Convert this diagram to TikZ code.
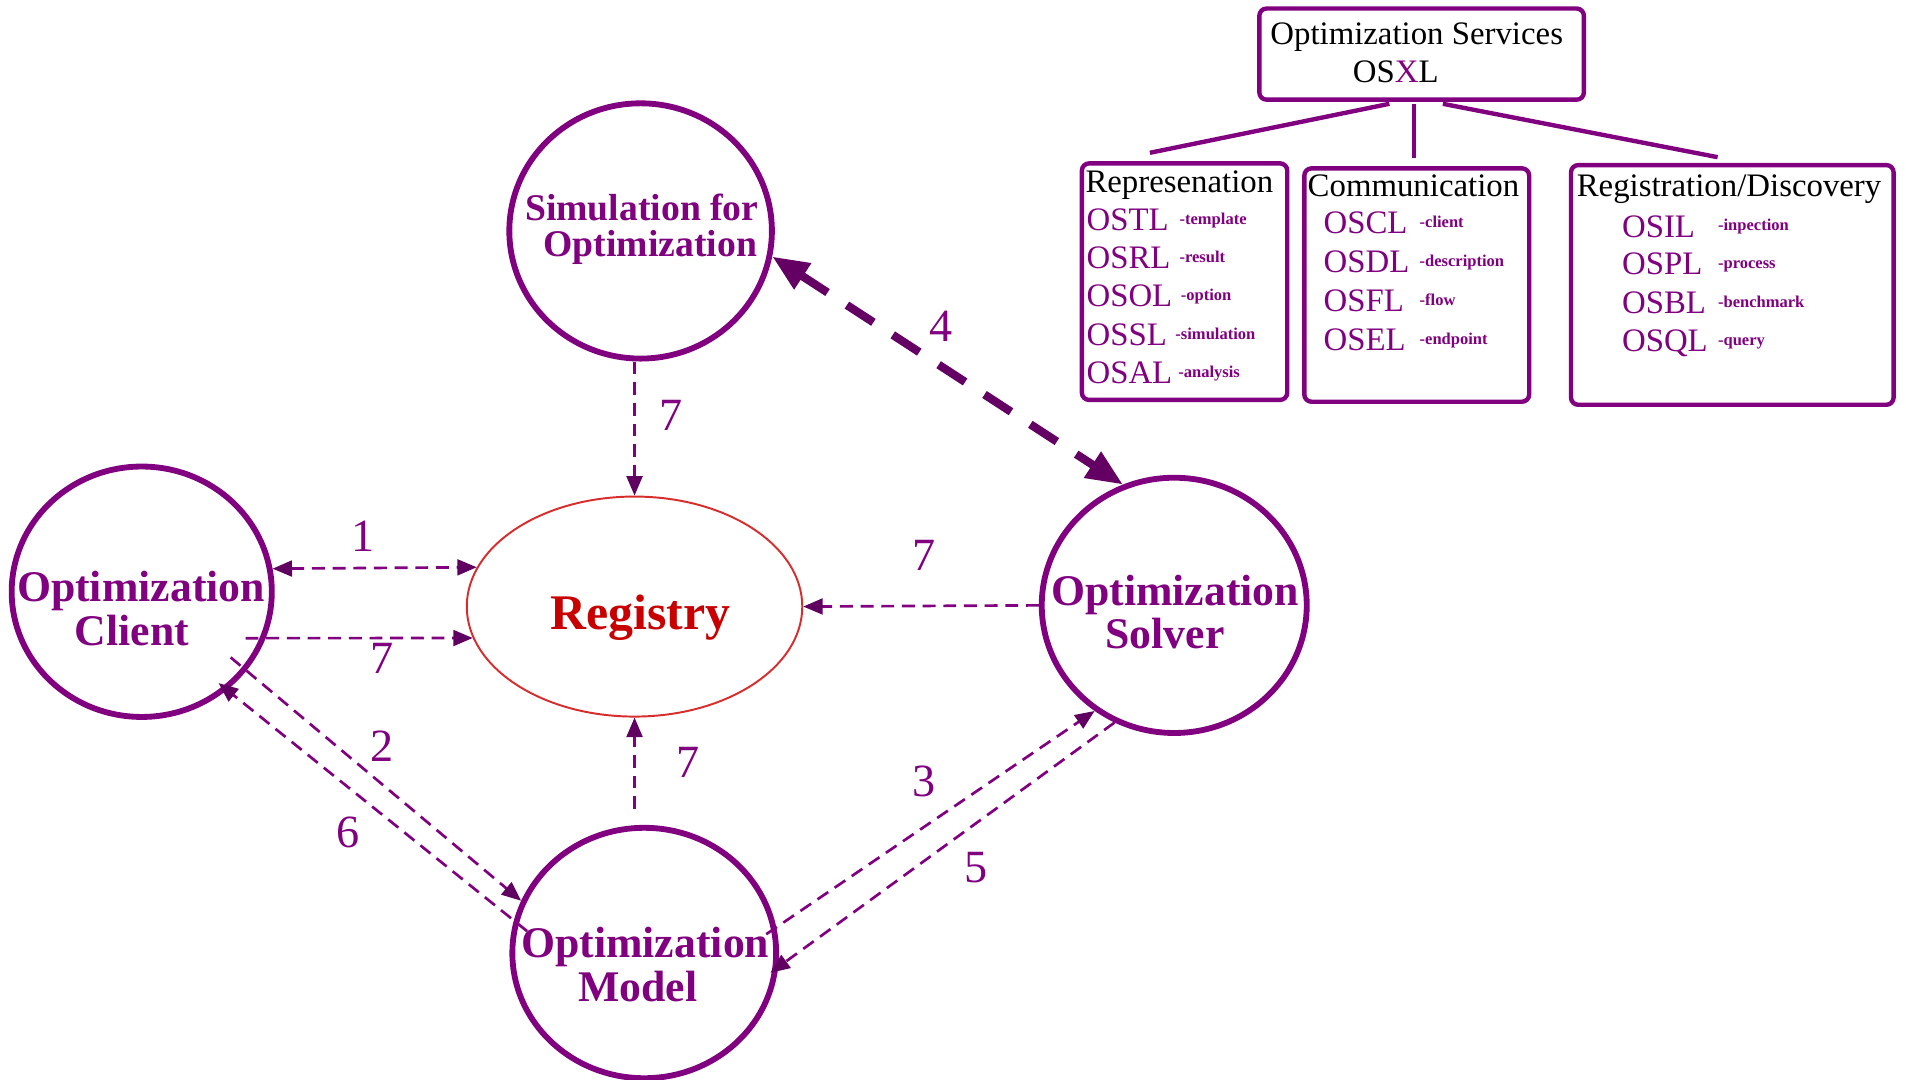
\documentclass[tikz,border=0pt]{standalone}
\usepackage{fontspec}
\setmainfont{Liberation Serif}
\usetikzlibrary{arrows.meta,shapes.geometric,calc}
\definecolor{osPurple}{RGB}{128,0,128}
\definecolor{osDark}{RGB}{100,0,100}
\definecolor{osTip}{RGB}{96,0,96}
\definecolor{regRed}{RGB}{215,45,45}
\definecolor{regText}{RGB}{200,0,0}

\tikzset{
  tA/.tip={Triangle[length=8pt,width=6.5pt,color=osTip]},
  tB/.tip={Triangle[length=15pt,width=12pt,color=osDark]},
}

\begin{document}
\begin{tikzpicture}[x=0.5pt,y=-0.5pt,
  actor/.style={ellipse,draw=osPurple,line width=2.4pt,inner sep=0pt},
  actortext/.style={font=\fontsize{18pt}{18pt}\selectfont\bfseries,text=osPurple,inner sep=0pt,anchor=base},
  simtext/.style={font=\fontsize{15.5pt}{15.5pt}\selectfont\bfseries,text=osPurple,inner sep=0pt,anchor=base},
  langbox/.style={rectangle,draw=osPurple,line width=1.8pt,rounded corners=3pt,inner sep=0pt},
  treeline/.style={draw=osPurple,line width=1.8pt},
  hdr/.style={font=\fontsize{13.5pt}{13.5pt}\selectfont,text=black,inner sep=0pt,anchor=base west},
  item/.style={font=\fontsize{13.5pt}{13.5pt}\selectfont,text=osPurple,inner sep=0pt,anchor=base west},
  suffix/.style={font=\fontsize{6.8pt}{6.8pt}\selectfont\bfseries,text=osPurple,inner sep=0pt,anchor=base west},
  flow/.style={draw=osPurple,line width=1.1pt,dash pattern=on 5.3pt off 3.2pt},
  bigflow/.style={draw=osDark,line width=3.4pt,dash pattern=on 13pt off 9.5pt},
  num/.style={font=\fontsize{19pt}{19pt}\selectfont,text=osPurple,inner sep=0pt,anchor=base},
]
\useasboundingbox (0,0) rectangle (1568,888);
\fill[white] (0,0) rectangle (1568,888);

% ---- Optimization Services language tree ----
\node[langbox,minimum width=133.5pt,minimum height=37.5pt] (title) at (1169.5,44.5) {};
\node[hdr] (titleA) at (1044.7,37) {Optimization Services};
\node[hdr] (titleB) at (1112.6,68) {OS\textcolor{osPurple}{X}L};

\node[langbox,minimum width=84.5pt,minimum height=97.3pt] (rep) at (974.5,231.7) {};
\node[langbox,minimum width=92.5pt,minimum height=96pt] (comm) at (1165.5,234.5) {};
\node[langbox,minimum width=132.7pt,minimum height=98.6pt] (regdisc) at (1425.1,234.4) {};

\draw[treeline] ($(title.south)+(-26.5,1.6)$) -- ($(rep.north)+(-28.5,-6.9)$);
\draw[treeline] ($(title.south)+(-6.5,1.6)$) -- ($(comm.north)+(-2.5,-6.9)$);
\draw[treeline] ($(title.south)+(17.5,1.6)$) -- ($(regdisc.north)+(-12.1,-4.7)$);

\node[hdr] (repH) at (892.6,158.5) {Represenation};
\node[hdr] (commH) at (1075.4,161.8) {Communication};
\node[hdr] (regH) at (1296.8,162) {Registration/Discovery};

\foreach \lang/\desc/\yb/\xs [count=\i] in
  {OSTL/template/190/970, OSRL/result/221/970, OSOL/option/252.3/971,
   OSSL/simulation/284/966.6, OSAL/analysis/315.4/969} {
  \node[item] (repL\i) at (893.5,\yb) {\lang};
  \node[suffix] (repS\i) at (\xs,\yb-5) {-\desc};
}
\foreach \lang/\desc/\yb [count=\i] in
  {OSCL/client/192, OSDL/description/224, OSFL/flow/256, OSEL/endpoint/288} {
  \node[item] (commL\i) at (1088.5,\yb) {\lang};
  \node[suffix] (commS\i) at (1167.5,\yb-5) {-\desc};
}
\foreach \lang/\desc/\yb [count=\i] in
  {OSIL/inpection/195, OSPL/process/226, OSBL/benchmark/258, OSQL/query/289} {
  \node[item] (regL\i) at (1334,\yb) {\lang};
  \node[suffix] (regS\i) at (1413,\yb-5) {-\desc};
}

% ---- actors ----
\node[actor,minimum width=108pt,minimum height=105pt] (sim) at (527,190) {};
\node[actor,minimum width=107pt,minimum height=103pt] (client) at (116.6,486.8) {};
\node[actor,minimum width=109pt,minimum height=105pt] (solver) at (966,498) {};
\node[actor,minimum width=108.5pt,minimum height=103pt] (model) at (530,784) {};
\node[ellipse,draw=regRed,line width=0.8pt,inner sep=0pt,
      minimum width=138pt,minimum height=90.5pt] (registry) at (522,499) {};

\node[simtext] (simA) at (528,181) {Simulation for};
\node[simtext] (simB) at (535,211) {Optimization};
\node[actortext] (clientA) at (116,495) {Optimization};
\node[actortext] (clientB) at (108.5,531) {Client};
\node[actortext] (solverA) at (966.7,498) {Optimization};
\node[actortext] (solverB) at (958.4,533.3) {Solver};
\node[actortext] (modelA) at (530.8,788) {Optimization};
\node[actortext] (modelB) at (524.7,824) {Model};
\node[font=\fontsize{20.5pt}{20.5pt}\selectfont\bfseries,text=regText,inner sep=0pt,anchor=base]
  (regT) at (527,518) {Registry};

% ---- message flows ----
\draw[flow,tA-tA] (client.10) -- (registry.166);
\draw[flow,-tA] ($(client.center)+(85.4,38.2)$) -- (registry.191);
\draw[flow,-tA] (registry.north |- sim.south) -- (registry.north);
\draw[flow,-tA,shorten <=6.5pt] (registry.south |- model.north) -- (registry.south);
\draw[flow,-tA] (solver.west) -- (registry.east);
\draw[bigflow,tB-tB] (sim.-11) -- (solver.113);
\draw[flow,-tA,shorten <=-8.5pt] (client.-37) -- (model.157);
\draw[flow,-tA,shorten <=-7pt,shorten >=-4.5pt] (model.166) -- (client.-49);
\draw[flow,-tA,shorten <=-5pt] (model.11) -- (solver.233);
\draw[flow,-tA,shorten >=-4pt] (solver.243) -- (model.-6);

% ---- step numbers ----
\node[num] (n1) at (299,454) {1};
\node[num] (n7a) at (314,554) {7};
\node[num] (n7b) at (552,354) {7};
\node[num] (n4) at (774,281) {4};
\node[num] (n7c) at (566,640) {7};
\node[num] (n7d) at (760,469.5) {7};
\node[num] (n2) at (314,626.6) {2};
\node[num] (n6) at (286.5,697.6) {6};
\node[num] (n3) at (760,655) {3};
\node[num] (n5) at (802.7,726.4) {5};
\end{tikzpicture}
\end{document}
